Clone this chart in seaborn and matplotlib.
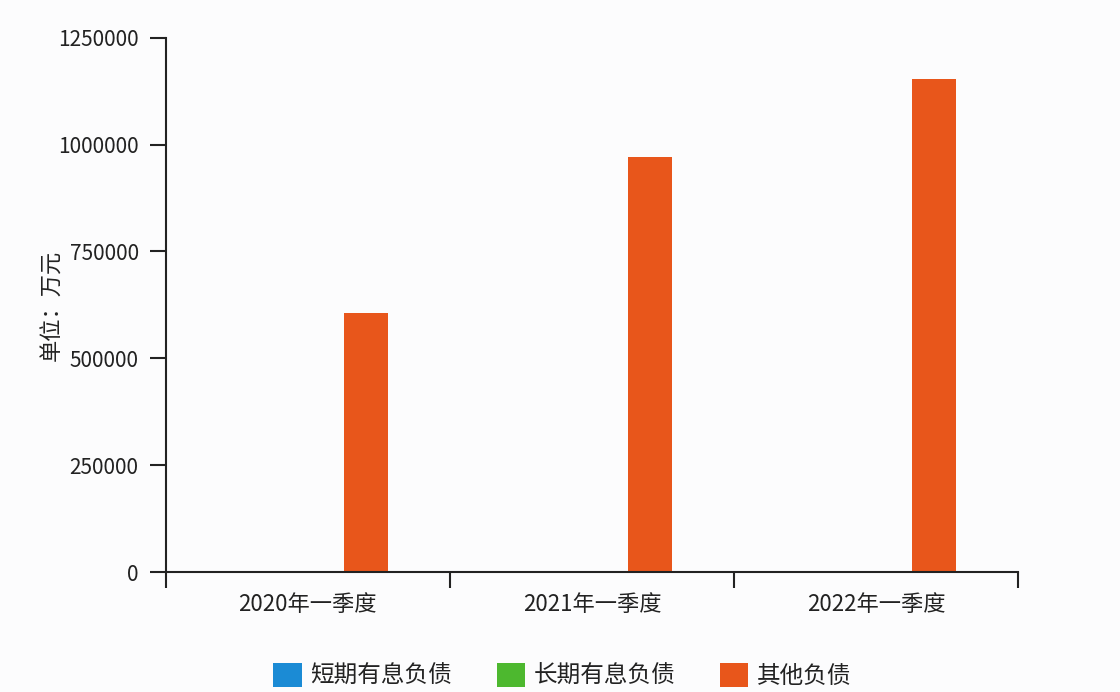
import matplotlib
matplotlib.use('Agg')
import matplotlib.pyplot as plt
import seaborn as sns
import pandas as pd

# ─── data ────────────────────────────────────────────────────────────────
quarters = ['2020年一季度', '2021年一季度', '2022年一季度']
series = ['短期有息负债', '长期有息负债', '其他负债']
short_debt = [0, 0, 0]
long_debt = [0, 0, 0]
other_debt = [605000, 970000, 1153000]
y_ticks = [0, 250000, 500000, 750000, 1000000, 1250000]
colors = ['#1b8bd5', '#4db82f', '#e8561b']

df = pd.DataFrame({
    'quarter': quarters * 3,
    'series': [s for s in series for _ in quarters],
    'value': short_debt + long_debt + other_debt,
})

sns.set_style('white')
plt.rcParams['font.family'] = ['Noto Sans CJK SC', 'DejaVu Sans']
bg = '#fcfcfd'

fig = plt.figure(figsize=(11.2, 6.92), dpi=100, facecolor=bg)
ax = fig.add_axes([0.148, 0.1734, 0.761, 0.772], facecolor=bg)

sns.barplot(data=df, x='quarter', y='value', hue='series', order=quarters,
            hue_order=series, palette=colors, saturation=1, width=0.61, gap=0.24,
            linewidth=0, ax=ax)

ax.set_xlim(-0.5, 2.5)
ax.set_ylim(0, 1250000)
ax.set_yticks(y_ticks)
ax.set_yticklabels([str(v) for v in y_ticks])
ax.set_xticks([-0.5, 0.5, 1.5, 2.5], minor=True)

ax.set_xlabel('')
ax.set_ylabel('单位：万元', fontsize=16, color='#222222', labelpad=-4)

for side in ['top', 'right']:
    ax.spines[side].set_visible(False)
for side in ['left', 'bottom']:
    ax.spines[side].set_linewidth(1.5)
    ax.spines[side].set_color('#222222')

ax.tick_params(axis='y', direction='out', length=11.5, width=1.5, color='#222222',
               labelsize=15, pad=8, left=True, labelcolor='#222222')
ax.tick_params(axis='x', which='major', length=0, labelsize=16, pad=15,
               labelcolor='#222222')
ax.tick_params(axis='x', which='minor', direction='out', length=11.5, width=1.5,
               color='#222222', bottom=True)

handles, labels = ax.get_legend_handles_labels()
ax.get_legend().remove()
fig.legend(handles, labels, loc='center', bbox_to_anchor=(0.502, 0.024), ncol=3,
           frameon=False, fontsize=17, handlelength=1.2, handleheight=1.2,
           columnspacing=1.9, handletextpad=0.35, labelcolor='#222222')

fig.savefig('out.png', dpi=100, facecolor=bg)
